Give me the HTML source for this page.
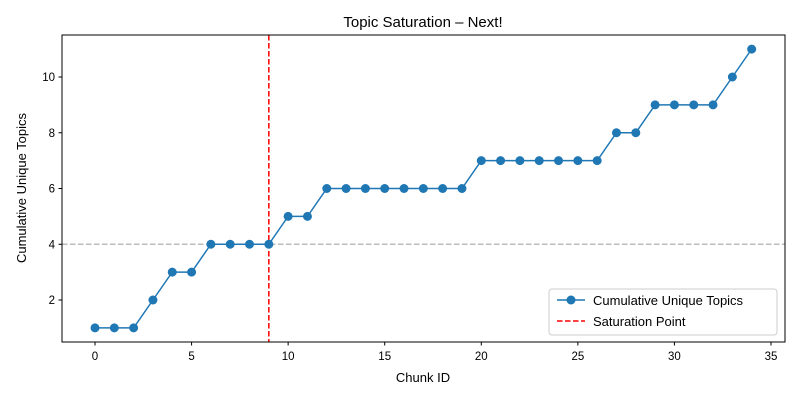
<!DOCTYPE html>
<html><head><meta charset="utf-8"><style>body{margin:0;background:#fff}svg{font-family:"Liberation Sans","DejaVu Sans",sans-serif}</style></head>
<body>
<svg id="chart" width="800" height="400" viewBox="0 0 800 400">
<rect x="0" y="0" width="800" height="400" fill="#fff"/>
<text x="423" y="27" font-size="15" text-anchor="middle">Topic Saturation – Next!</text>
<g id="grid"></g>
<g id="marks"></g>
<rect x="62" y="35" width="723" height="307" fill="none" stroke="#000" stroke-width="1"/>
<g id="xt"></g><g id="yt"></g>
<text x="423" y="382" font-size="13" text-anchor="middle">Chunk ID</text>
<text transform="translate(26,188) rotate(-90)" font-size="13" text-anchor="middle">Cumulative Unique Topics</text>
<g>
<rect x="549" y="289" width="228" height="46" rx="3" fill="#fff" fill-opacity="0.8" stroke="#ccc"/>
<g>
<line x1="557" y1="300" x2="585" y2="300" stroke="#1f77b4" stroke-width="1.5"/>
<circle cx="571" cy="300" r="4.5" fill="#1f77b4"/>
<text x="593" y="305" font-size="13">Cumulative Unique Topics</text></g>
<g>
<line x1="557" y1="321" x2="585" y2="321" stroke="red" stroke-width="1.5" stroke-dasharray="5.5,2.5"/>
<text x="593" y="326" font-size="13">Saturation Point</text></g>
</g>
</svg>
<script>
const chunkIds=[0,1,2,3,4,5,6,7,8,9,10,11,12,13,14,15,16,17,18,19,20,21,22,23,24,25,26,27,28,29,30,31,32,33,34];
const cumulativeTopics=[1,1,1,2,3,3,4,4,4,4,5,5,6,6,6,6,6,6,6,6,7,7,7,7,7,7,7,8,8,9,9,9,9,10,11];
const saturationChunk=9;
const thresholdTopics=4;
const xTicks=[0,5,10,15,20,25,30,35];
const yTicks=[2,4,6,8,10];
const NS="http://www.w3.org/2000/svg";
const X=v=>95+v*19.314;
const Y=v=>355.75-v*27.875;
function mk(tag,attrs,parent){const e=document.createElementNS(NS,tag);for(const k in attrs)e.setAttribute(k,attrs[k]);parent.appendChild(e);return e;}
const grid=document.getElementById('grid'),marks=document.getElementById('marks'),xt=document.getElementById('xt'),yt=document.getElementById('yt');
let hl=mk('line',{x1:62,x2:785,y1:Y(thresholdTopics),y2:Y(thresholdTopics),stroke:'#bbb','stroke-width':1.5,'stroke-dasharray':'5.5,2.5'},grid);


let vl=mk('line',{x1:X(saturationChunk),x2:X(saturationChunk),y1:35,y2:342,stroke:'red','stroke-width':1.5,'stroke-dasharray':'5.5,2.5'},marks);


let pl=mk('polyline',{points:chunkIds.map((c,i)=>X(c)+','+Y(cumulativeTopics[i])).join(' '),fill:'none',stroke:'#1f77b4','stroke-width':1.5},marks);


chunkIds.forEach((c,i)=>{const p=mk('circle',{cx:X(c),cy:Y(cumulativeTopics[i]),r:4.5,fill:'#1f77b4'},marks);

});
xTicks.forEach(t=>{mk('line',{x1:X(t),x2:X(t),y1:342,y2:345.5,stroke:'#000'},xt);const tx=mk('text',{x:X(t),y:360,'font-size':11.5,'text-anchor':'middle'},xt);tx.textContent=t;

});
yTicks.forEach(t=>{mk('line',{x1:58.5,x2:62,y1:Y(t),y2:Y(t),stroke:'#000'},yt);const tx=mk('text',{x:55,y:Y(t)+4,'font-size':11.5,'text-anchor':'end'},yt);tx.textContent=t;

});
</script>
</body></html>
